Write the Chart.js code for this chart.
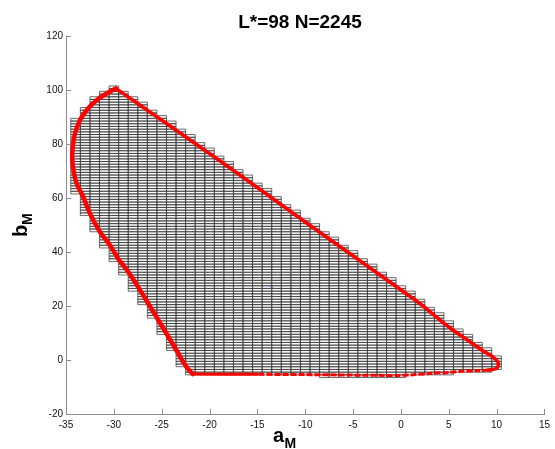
<!DOCTYPE html>
<html>
<head>
<meta charset="utf-8">
<title>L*=98 N=2245</title>
<script src="https://cdn.jsdelivr.net/npm/chart.js@4.4.1/dist/chart.umd.min.js"></script>
<style>
    html, body { margin: 0; padding: 0; background: #fff; }
    #wrap { width: 555px; height: 449px; }
</style>
</head>
<body>
<div id="wrap"><canvas id="chart" width="555" height="449"></canvas></div>
<script>
const $ = (id) => document.getElementById(id);

const titleText = "L*=98 N=2245";
const xTicks = [-35, -30, -25, -20, -15, -10, -5, 0, 5, 10, 15];
const yTicks = [-20, 0, 20, 40, 60, 80, 100, 120];

// grid columns: centre a, lowest and highest b cell (centres)
const colA = [-34, -33, -32, -31, -30, -29, -28, -27, -26, -25, -24, -23, -22, -21, -20,
    -19, -18, -17, -16, -15, -14, -13, -12, -11, -10, -9, -8, -7, -6, -5,
    -4, -3, -2, -1, 0, 1, 2, 3, 4, 5, 6, 7, 8, 9, 10];
const colBottom = [62, 54, 48, 42, 37, 32, 26, 21, 16, 10, 4, -2, -5, -5, -5,
    -5, -5, -5, -5, -5, -5, -5, -5, -5, -5, -5, -6, -6, -6, -6,
    -6, -6, -6, -6, -6, -5, -5, -5, -5, -5, -4, -4, -4, -4, -3];
const colTop = [89, 93, 97, 99, 101, 99, 97, 95, 92, 90, 88, 85, 83, 80, 78,
    75, 73, 70, 68, 65, 63, 60, 57, 55, 52, 50, 47, 45, 42, 40,
    37, 35, 32, 30, 27, 25, 22, 19, 17, 14, 11, 9, 6, 4, 1];

// red boundary, left part (bottom corner -> top)
const leftA = [-21.75, -22.43, -23.48, -24.52, -25.56, -26.43, -27.47, -28.51, -29.56, -30.42,
    -31.46, -32.5, -33.2, -33.89, -34.2, -34.34, -34.3, -34.06, -33.54, -32.85, -31.8, -30.76, -29.79];
const leftB = [-5.2, -2.5, 3.7, 9.9, 16.0, 21.0, 27.1, 32.7, 37.6, 42.6,
    47.5, 54.3, 60.4, 65.4, 70, 74, 78.9, 83.9, 88.8, 92.5, 96.2, 98.7, 100.6];

// red boundary, right part (top -> tip -> back along the bottom)
const rightA = [-29.79, -19, -10, 1.5, 3.24, 4.97, 6.71, 8.44, 9.66, 10.18, 10.0,
    9.14, 7.75, 6.71, 4.97, 3.24, 1.51, -0.23, -5, -10, -15, -21.75];
const rightB = [100.6, 74, 51.1, 22.2, 17.3, 12.3, 8.0, 3.7, 1.0, -1.2, -3.1,
    -3.7, -4.0, -4.1, -4.6, -4.9, -5.4, -5.7, -5.6, -5.4, -5.3, -5.2];

const markA = [-13.5];
const markB = [27];

const FONT = '"Liberation Sans", Arial, Helvetica, sans-serif';

function toPoints(xs, ys) {
    return xs.map((v, i) => ({ x: v, y: ys[i] }));
}

function cellPoints() {
    const pts = [];
    colA.forEach((a, i) => {
        for (let b = colBottom[i]; b <= colTop[i]; b++) pts.push({ x: a, y: b });
    });
    return pts;
}

// outlines every cell of the "cells" dataset, 1 x 1 unit around its centre
const cellGrid = {
    id: "cellGrid",
    beforeDatasetsDraw(chart) {
        const { ctx, scales: { x, y } } = chart;
        const ds = chart.data.datasets.find(d => d.label === "cells");
        ctx.save();
        ctx.beginPath();
        for (const c of ds.data) {
            const x0 = x.getPixelForValue(c.x - 0.5);
            const x1 = x.getPixelForValue(c.x + 0.5);
            const y0 = y.getPixelForValue(c.y + 0.5);
            const y1 = y.getPixelForValue(c.y - 0.5);
            ctx.rect(x0, y0, x1 - x0, y1 - y0);
        }
        ctx.strokeStyle = "#3a3a3a";
        ctx.lineWidth = 0.75;
        ctx.stroke();
        ctx.restore();
    }
};

// inward ticks, title and subscripted axis labels
const axisDecor = {
    id: "axisDecor",
    afterDraw(chart) {
        const { ctx, chartArea: ca, scales: { x, y } } = chart;
        ctx.save();
        ctx.strokeStyle = "#8c8c8c";
        ctx.lineWidth = 1;
        ctx.beginPath();
        xTicks.forEach(v => {
            const px = Math.round(x.getPixelForValue(v)) + 0.5;
            ctx.moveTo(px, ca.bottom);
            ctx.lineTo(px, ca.bottom - 5);
        });
        yTicks.forEach(v => {
            const py = Math.round(y.getPixelForValue(v)) + 0.5;
            ctx.moveTo(ca.left, py);
            ctx.lineTo(ca.left + 5, py);
        });
        ctx.stroke();

        ctx.fillStyle = "#000";
        ctx.textBaseline = "alphabetic";
        ctx.textAlign = "center";
        ctx.font = "bold 19px " + FONT;
        ctx.fillText(titleText, 300, 28);

        ctx.textAlign = "left";
        ctx.font = "bold 20px " + FONT;
        ctx.fillText("a", 273, 442);
        ctx.font = "bold 14px " + FONT;
        ctx.fillText("M", 284.5, 448);

        ctx.translate(27, 237);
        ctx.rotate(-Math.PI / 2);
        ctx.font = "bold 20px " + FONT;
        ctx.fillText("b", 0, 0);
        ctx.font = "bold 14px " + FONT;
        ctx.fillText("M", 12, 5);
        ctx.restore();
    }
};

const onBottom = (ctx) => ctx.p0.parsed.y < -3.5;
const bottomDashed = (ctx) => onBottom(ctx) && ctx.p1.parsed.x >= -15;

function initChart() {
    const tickFont = { family: FONT, size: 10 };
    return new Chart($("chart"), {
        type: "scatter",
        data: {
            datasets: [
                {
                    label: "cells",
                    data: cellPoints(),
                    pointRadius: 0,
                    showLine: false
                },
                {
                    label: "left edge",
                    data: toPoints(leftA, leftB),
                    showLine: true,
                    pointRadius: 0,
                    borderColor: "#ff0000",
                    borderWidth: 4.5,
                    borderCapStyle: "round",
                    borderJoinStyle: "round",
                    tension: 0.4
                },
                {
                    label: "right edge",
                    data: toPoints(rightA, rightB),
                    showLine: true,
                    pointRadius: 0,
                    borderColor: "#ff0000",
                    borderWidth: 3.6,
                    borderCapStyle: "round",
                    borderJoinStyle: "round",
                    tension: 0.3,
                    segment: {
                        borderDash: ctx => bottomDashed(ctx) ? [6, 2] : undefined,
                        borderCapStyle: ctx => bottomDashed(ctx) ? "butt" : undefined,
                        borderWidth: ctx => onBottom(ctx) ? 3 : undefined
                    }
                },
                {
                    label: "mark",
                    data: toPoints(markA, markB),
                    pointStyle: "line",
                    pointRadius: 2,
                    borderColor: "rgba(80,80,255,0.6)",
                    borderWidth: 1
                }
            ]
        },
        options: {
            responsive: false,
            animation: false,
            devicePixelRatio: 1,
            layout: { padding: { top: 36, right: 9, left: 0, bottom: 0 } },
            plugins: {
                legend: { display: false },
                tooltip: { enabled: false },
                title: { display: false }
            },
            scales: {
                x: {
                    type: "linear",
                    min: -35,
                    max: 15,
                    afterBuildTicks: s => { s.ticks = xTicks.map(v => ({ value: v })); },
                    afterFit: s => { s.height = 35; },
                    grid: { display: false, drawTicks: false },
                    border: { display: true, color: "#8c8c8c", width: 1 },
                    ticks: { padding: 5, color: "#111", font: tickFont, maxRotation: 0, autoSkip: false }
                },
                y: {
                    type: "linear",
                    min: -20,
                    max: 120,
                    afterBuildTicks: s => { s.ticks = yTicks.map(v => ({ value: v })); },
                    afterFit: s => { s.width = 66; },
                    grid: { display: false, drawTicks: false },
                    border: { display: true, color: "#8c8c8c", width: 1 },
                    ticks: { padding: 3, color: "#111", font: tickFont, autoSkip: false }
                }
            }
        },
        plugins: [cellGrid, axisDecor]
    });
}

window.addEventListener("DOMContentLoaded", () => {
    initChart();
});
</script>
</body>
</html>
